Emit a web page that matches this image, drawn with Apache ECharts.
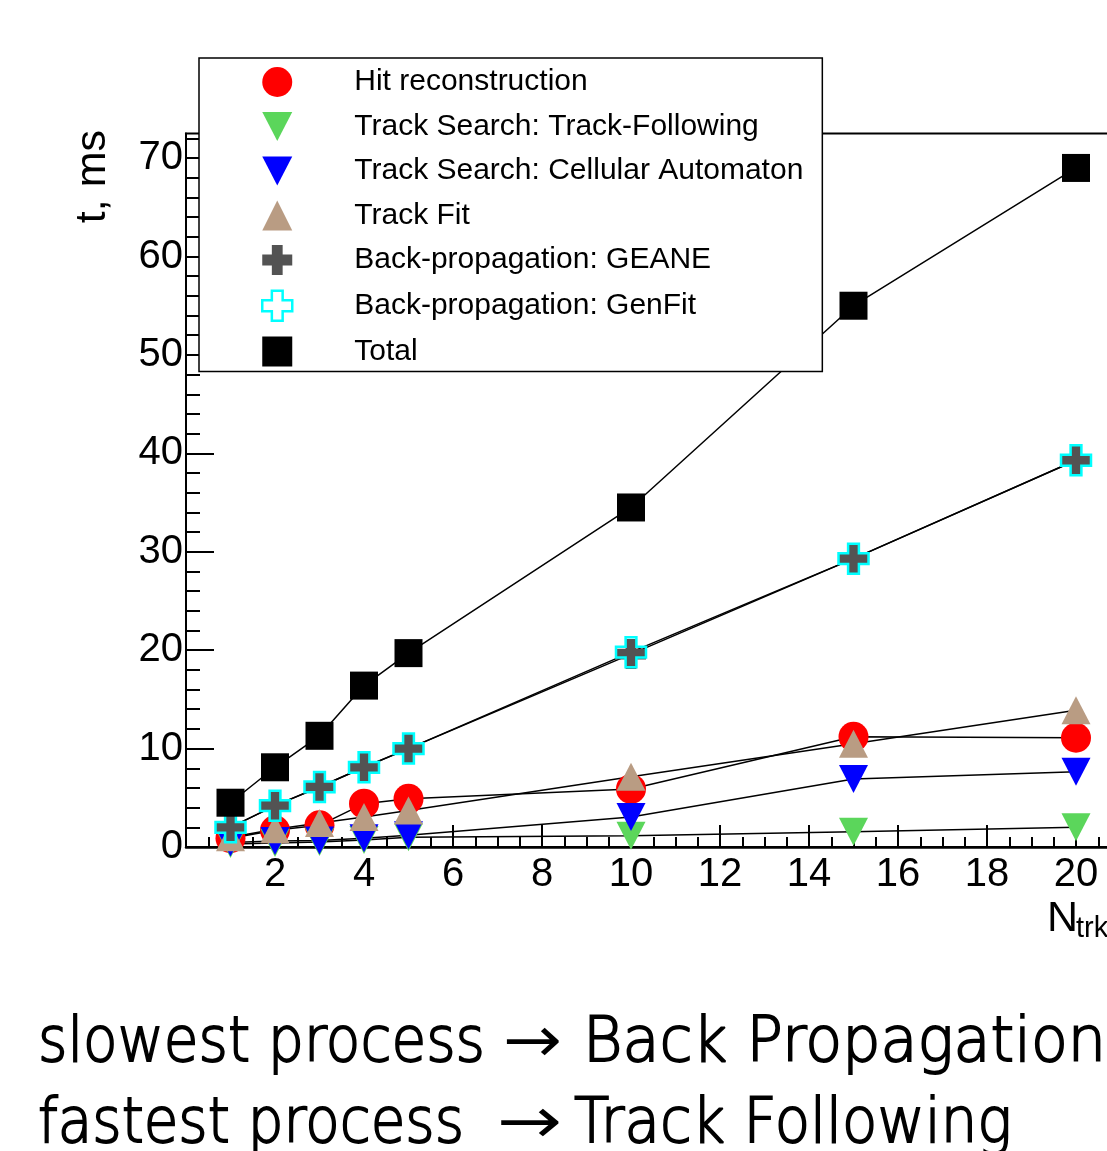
<!DOCTYPE html>
<html>
<head>
<meta charset="utf-8">
<script src="https://cdn.jsdelivr.net/npm/echarts@6/dist/echarts.min.js"></script>
<style>
  html, body { margin: 0; padding: 0; overflow: hidden; background: #ffffff; }
  #chart { width: 1160px; height: 1151px; }
</style>
</head>
<body>
<div id="chart"></div>
<script>
// Reconstruction timing versus number of tracks in the event
const nTracks        = [1, 2, 3, 4, 5, 10, 15, 20];
const hitReco        = [0.9, 1.7, 2.2, 4.4, 4.9, 5.9, 11.2, 11.1];
const trackFollowing = [0.3, 0.4, 0.5, 0.7, 1.0, 1.15, 1.55, 2.0];
const cellAutomaton  = [0.45, 0.6, 0.65, 0.9, 1.2, 3.05, 6.9, 7.65];
const trackFit       = [1.0, 1.8, 2.45, 3.05, 3.7, 7.15, 10.5, 13.9];
const backPropGeane  = [2.0, 4.2, 6.1, 8.1, 10.0, 19.6, 29.3, 39.3];
const backPropGenfit = [2.0, 4.2, 6.1, 8.1, 10.0, 19.8, 29.3, 39.3];
const totalTime      = [4.5, 8.1, 11.3, 16.4, 19.7, 34.5, 55.0, 69.0];

const seriesNames = [
  'Hit reconstruction',
  'Track Search: Track-Following',
  'Track Search: Cellular Automaton',
  'Track Fit',
  'Back-propagation: GEANE',
  'Back-propagation: GenFit',
  'Total'
];

// Axis ticks and labels
const xMajorTicks = [0, 2, 4, 6, 8, 10, 12, 14, 16, 18, 20];
const xTickLabels = [2, 4, 6, 8, 10, 12, 14, 16, 18, 20];
const yMajorTicks = [0, 10, 20, 30, 40, 50, 60, 70];
const yTickLabels = [0, 10, 20, 30, 40, 50, 60, 70];

function range(start, stop, step) {
  const out = [];
  for (let v = start; v <= stop + 1e-9; v += step) out.push(+v.toFixed(3));
  return out;
}
const xMinorTicks = range(0, 21, 0.5);
const yMinorTicks = range(0, 72, 2);

const X_MAX = 21, Y_MAX = 72.5;
const FONT = '"Liberation Sans", Arial, Helvetica, sans-serif';

// Marker shapes
const DOWN_TRIANGLE = 'path://M0,0L10,0L5,9.6Z';
const CROSS = 'path://M3.2,0H6.8V3.2H10V6.8H6.8V10H3.2V6.8H0V3.2H3.2Z';

const markerDefs = [
  { symbol: 'circle',      size: 30,       style: { color: '#ff0000' } },
  { symbol: DOWN_TRIANGLE, size: [29, 28], style: { color: '#5bd65b' } },
  { symbol: DOWN_TRIANGLE, size: [29, 28], style: { color: '#0000ff' } },
  { symbol: 'triangle',    size: [29, 28], style: { color: '#b99c83' } },
  { symbol: CROSS,         size: 30,       style: { color: '#535353' } },
  { symbol: CROSS,         size: 30,       style: { color: 'rgba(255,255,255,0)', borderColor: '#00ffff', borderWidth: 2.5 } },
  { symbol: 'rect',        size: 28,       style: { color: '#000000' } }
];
const seriesValues = [hitReco, trackFollowing, cellAutomaton, trackFit, backPropGeane, backPropGenfit, totalTime];

const series = seriesNames.map((name, i) => ({
  type: 'line',
  name: name,
  data: nTracks.map((n, k) => [n, seriesValues[i][k]]),
  xAxisIndex: 0,
  yAxisIndex: 0,
  symbol: markerDefs[i].symbol,
  symbolSize: markerDefs[i].size,
  showAllSymbol: true,
  itemStyle: Object.assign({ opacity: 1 }, markerDefs[i].style),
  lineStyle: { color: '#000000', width: 1.5 },
  emphasis: { disabled: true },
  animation: false,
  clip: false,
  z: 2
}));

// Bottom caption, each piece fitted to its horizontal span
const CAPTION_FONT_SIZE = 62;
const CAPTION_FONT = '200 ' + CAPTION_FONT_SIZE + 'px "DejaVu Sans", sans-serif';
const measureCtx = document.createElement('canvas').getContext('2d');
function captionPiece(text, left, right, baselineY) {
  measureCtx.font = CAPTION_FONT;
  const w = measureCtx.measureText(text).width;
  return {
    type: 'text',
    x: left,
    y: baselineY - CAPTION_FONT_SIZE * 0.346,
    scaleX: (right - left) / w,
    silent: true,
    z: 10,
    style: {
      text: text,
      font: CAPTION_FONT,
      fill: '#000000',
      stroke: '#000000',
      lineWidth: 1.8,
      align: 'left',
      verticalAlign: 'middle'
    }
  };
}

const chart = echarts.init(document.getElementById('chart'), null, { renderer: 'canvas' });

chart.setOption({
  backgroundColor: '#ffffff',
  animation: false,
  textStyle: { fontFamily: FONT },
  grid: {
    left: 186,
    top: 133.5,
    width: X_MAX * 44.5,
    height: 713.5,
    show: true,
    borderColor: '#000000',
    borderWidth: 2,
    backgroundColor: 'transparent',
    containLabel: false,
    outerBoundsMode: 'none'
  },
  xAxis: [
    {
      type: 'value', min: 0, max: X_MAX, position: 'bottom',
      axisLine: { show: true, onZero: false, lineStyle: { color: '#000', width: 2.5 } },
      axisTick: { show: true, inside: true, length: 22, customValues: xMajorTicks, lineStyle: { color: '#000', width: 2 } },
      axisLabel: { show: true, customValues: xTickLabels, margin: 8, color: '#000', fontSize: 40, fontFamily: FONT },
      splitLine: { show: false }
    },
    {
      type: 'value', min: 0, max: X_MAX, position: 'bottom',
      axisLine: { show: false },
      axisTick: { show: true, inside: true, length: 10, customValues: xMinorTicks, lineStyle: { color: '#000', width: 2 } },
      axisLabel: { show: false },
      splitLine: { show: false }
    }
  ],
  yAxis: [
    {
      type: 'value', min: 0, max: Y_MAX, position: 'left',
      axisLine: { show: true, onZero: false, lineStyle: { color: '#000', width: 2 } },
      axisTick: { show: true, inside: true, length: 28, customValues: yMajorTicks, lineStyle: { color: '#000', width: 2 } },
      axisLabel: { show: true, customValues: yTickLabels, margin: 3, color: '#000', fontSize: 40, fontFamily: FONT },
      splitLine: { show: false }
    },
    {
      type: 'value', min: 0, max: Y_MAX, position: 'left',
      axisLine: { show: false },
      axisTick: { show: true, inside: true, length: 14, customValues: yMinorTicks, lineStyle: { color: '#000', width: 2 } },
      axisLabel: { show: false },
      splitLine: { show: false }
    }
  ],
  legend: {
    show: true,
    orient: 'vertical',
    left: 199,
    top: 58,
    itemWidth: 30,
    itemHeight: 30,
    itemGap: 14.5,
    padding: [9, 19, 5, 62],
    backgroundColor: '#ffffff',
    borderColor: '#000000',
    borderWidth: 1.5,
    borderRadius: 0,
    selectedMode: false,
    textStyle: { fontFamily: FONT, fontSize: 30, color: '#000000', padding: [0, 0, 0, 57] },
    data: seriesNames.map((name, i) => ({
      name: name,
      icon: markerDefs[i].symbol,
      itemStyle: Object.assign({ borderWidth: 0, opacity: 1 }, markerDefs[i].style)
    }))
  },
  series: series,
  graphic: [
    {
      type: 'text', x: 93, y: 130, rotation: Math.PI / 2, silent: true,
      style: { text: 't, ms', font: '43px ' + FONT, fill: '#000', align: 'right', verticalAlign: 'middle' }
    },
    {
      type: 'text', x: 1047, y: 934 - 43 * 0.3465, silent: true,
      style: { text: 'N', font: '43px ' + FONT, fill: '#000', align: 'left', verticalAlign: 'middle' }
    },
    {
      type: 'text', x: 1076, y: 939 - 29 * 0.3465, silent: true,
      style: { text: 'trks', font: '29px ' + FONT, fill: '#000', align: 'left', verticalAlign: 'middle' }
    },
    captionPiece('slowest process', 38, 485, 1066),
    captionPiece('\u2192', 504, 561, 1066),
    captionPiece('Back Propagation', 583, 1106, 1066),
    captionPiece('fastest process', 38, 464, 1147),
    captionPiece('\u2192', 498, 561, 1147),
    captionPiece('Track Following', 574, 1012, 1147)
  ]
});
</script>
</body>
</html>
